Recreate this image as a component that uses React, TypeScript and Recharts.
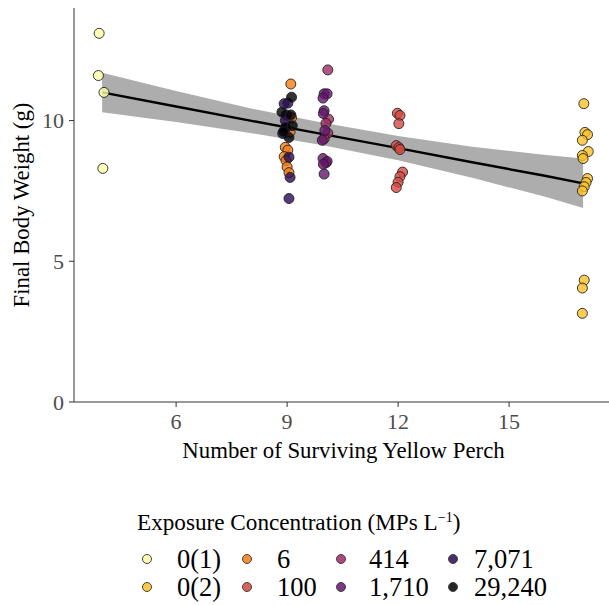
import React from 'react';
import { ComposedChart, Scatter, Line, Area, XAxis, YAxis } from 'recharts';

const FONT = 'Liberation Serif, Times New Roman, DejaVu Serif, serif';

// exposure groups, legend order
const groupNames = ['0(1)', '0(2)', '6', '100', '414', '1,710', '7,071', '29,240'];
const groupColors = ['#FCFFA4', '#FAC127', '#F57D15', '#D44842', '#9F2A63', '#65156E', '#280B54', '#000004'];

// [surviving perch (jittered), final body weight g]
const ctrl1 = [[3.92, 13.1], [3.9, 11.6], [4.05, 11.0], [4.02, 8.3]];
const ctrl2 = [
  [17.02, 10.6], [17.05, 9.58], [17.12, 9.5], [16.98, 9.3], [17.14, 8.9], [16.98, 8.76],
  [17.0, 8.65], [17.12, 7.94], [17.08, 7.8], [17.03, 7.65], [16.98, 7.5],
  [17.03, 4.33], [16.98, 4.05], [16.98, 3.15],
];
const conc6 = [
  [9.1, 11.3], [9.12, 10.1], [9.08, 9.6], [8.95, 9.05], [9.02, 8.95], [8.92, 8.72],
  [8.97, 8.58], [9.0, 8.35], [9.05, 8.15],
];
const conc100 = [
  [11.98, 10.26], [12.05, 10.18], [12.02, 9.89], [11.95, 9.11], [12.02, 9.04], [12.05, 8.97],
  [12.12, 8.17], [12.05, 8.01], [12.0, 7.81], [11.95, 7.62],
];
const conc414 = [[10.1, 11.8], [10.12, 10.05], [10.05, 9.9], [10.1, 9.55], [10.0, 9.35], [10.05, 8.5]];
const conc1710 = [
  [10.0, 10.95], [10.08, 10.95], [9.97, 10.8], [10.0, 10.35], [9.98, 10.25], [10.02, 9.65],
  [9.95, 9.3], [9.97, 8.65], [10.08, 8.55], [9.98, 8.45], [10.0, 8.1],
];
const conc7071 = [
  [8.92, 10.6], [9.02, 10.62], [8.95, 10.0], [8.98, 10.2], [8.88, 9.54], [8.95, 9.7],
  [9.05, 8.7], [9.08, 7.98], [9.05, 7.23],
];
const conc29240 = [[9.12, 10.83], [8.86, 10.3], [9.1, 10.2], [8.95, 9.75], [9.14, 9.82], [9.05, 9.4], [8.9, 9.6]];

const groupPoints = [ctrl1, ctrl2, conc6, conc100, conc414, conc1710, conc7071, conc29240];

// linear fit with 95% CI band
const fitX = [4, 6, 8, 10, 12, 14, 16, 17];
const fitY = [11.0, 10.5, 10.0, 9.51, 9.02, 8.52, 8.03, 7.77];
const fitLo = [10.3, 9.95, 9.56, 9.11, 8.59, 7.97, 7.28, 6.89];
const fitHi = [11.7, 11.05, 10.44, 9.91, 9.45, 9.07, 8.78, 8.65];

const xTicks = [6, 9, 12, 15];
const yTicks = [0, 5, 10];

const fitData = fitX.map((x, i) => ({ x, fit: fitY[i], band: [fitLo[i], fitHi[i]] }));

const Dot = (props: any) => {
  const { cx, cy, fill } = props;
  if (cx == null || cy == null) return null;
  return <circle cx={cx} cy={cy} r={5} fill={fill} fillOpacity={0.8} stroke="#222" strokeWidth={0.9} />;
};

const App: React.FC = () => {
  return (
    <div style={{ position: 'absolute', left: 0, top: 0, width: 609, height: 605, background: '#fff', fontFamily: FONT }}>
      <ComposedChart
        width={609}
        height={605}
        data={fitData}
        margin={{ top: 8, right: 0, left: 0, bottom: 141 }}
        style={{ fontFamily: FONT }}
      >
        <XAxis
          type="number"
          dataKey="x"
          domain={[3.24, 17.7]}
          ticks={xTicks}
          allowDataOverflow
          height={62}
          tickSize={5}
          tickMargin={6}
          stroke="#333"
          tick={{ fill: '#4D4D4D', fontSize: 22, fontFamily: FONT }}
          label={{
            content: (p: any) => {
              const vb = p.viewBox;
              return (
                <text x={vb.x + vb.width / 2 + 2} y={vb.y + 48} textAnchor="middle" dominantBaseline="central"
                  fontSize={22.8} fontFamily={FONT} fill="#000">
                  Number of Surviving Yellow Perch
                </text>
              );
            },
          }}
        />
        <YAxis
          type="number"
          domain={[0, 14]}
          ticks={yTicks}
          allowDataOverflow
          width={74}
          tickSize={5}
          tickMargin={5}
          stroke="#333"
          tick={{ fill: '#4D4D4D', fontSize: 22, fontFamily: FONT }}
          label={{
            content: (p: any) => {
              const vb = p.viewBox;
              const cx = vb.x + 21;
              const cy = vb.y + vb.height / 2;
              return (
                <text x={cx} y={cy} transform={`rotate(-90 ${cx} ${cy})`} textAnchor="middle" dominantBaseline="central"
                  fontSize={22.8} fontFamily={FONT} fill="#000">
                  Final Body Weight (g)
                </text>
              );
            },
          }}
        />
        <Area dataKey="band" type="linear" stroke="none" fill="#999999" fillOpacity={0.8} isAnimationActive={false} />
        <Line dataKey="fit" type="linear" stroke="#000" strokeWidth={2.4} dot={false} isAnimationActive={false} />
        {groupPoints.map((pts, gi) => (
          <Scatter
            key={groupNames[gi]}
            name={groupNames[gi]}
            data={pts.map(([x, y]) => ({ x, y }))}
            dataKey="y"
            fill={groupColors[gi]}
            shape={<Dot />}
            isAnimationActive={false}
          />
        ))}
      </ComposedChart>

      <div style={{ position: 'absolute', left: 137, top: 507, fontSize: 23.2, color: '#000', whiteSpace: 'nowrap', lineHeight: '30px' }}>
        Exposure Concentration (MPs L<sup style={{ fontSize: 14, verticalAlign: 'top', position: 'relative', top: -4 }}>−1</sup>)
      </div>
      {groupNames.map((name, i) => {
        const col = Math.floor(i / 2);
        const row = i % 2;
        const markerX = [147, 247, 341, 453][col];
        const labelX = [177, 277, 369, 474][col];
        const cy = row === 0 ? 559 : 587;
        return (
          <React.Fragment key={name}>
            <div style={{
              position: 'absolute', left: markerX - 5, top: cy - 5, width: 8, height: 8, borderRadius: '50%',
              background: groupColors[i], opacity: 0.85, border: '1px solid #222',
            }} />
            <div style={{ position: 'absolute', left: labelX, top: cy - 15, fontSize: 26.5, lineHeight: '30px', whiteSpace: 'nowrap' }}>
              {name}
            </div>
          </React.Fragment>
        );
      })}
    </div>
  );
};

export default App;
